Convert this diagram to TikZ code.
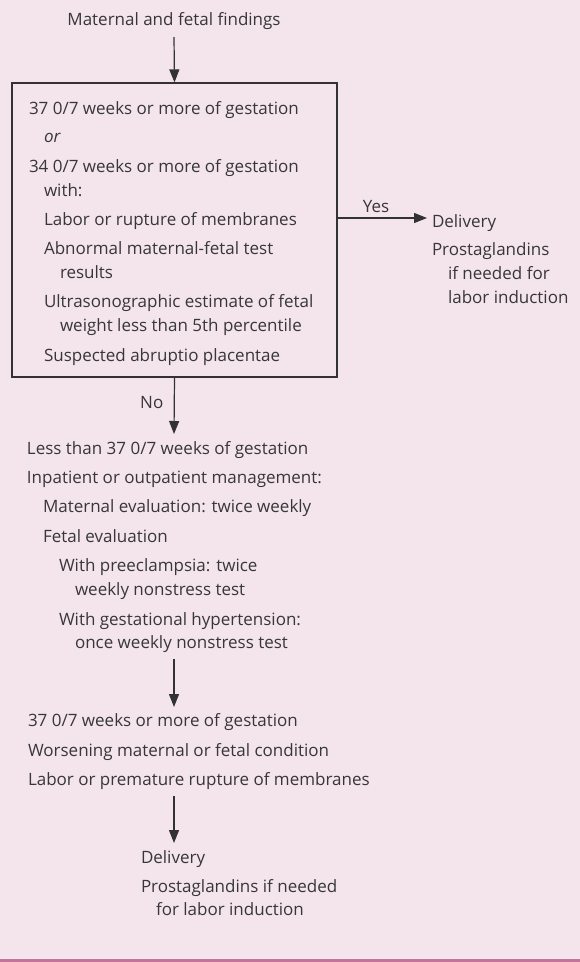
\documentclass[tikz,border=0pt]{standalone}
\usepackage{fontspec}
\setmainfont{Open Sans}
\usetikzlibrary{arrows.meta}
\definecolor{bgpink}{RGB}{244,228,236}
\definecolor{linemag}{RGB}{196,116,154}
\definecolor{txtgray}{RGB}{55,55,55}
\definecolor{strokegray}{RGB}{50,50,50}
\tikzset{
  txt/.style={inner sep=0pt, outer sep=0pt, anchor=base west, text=txtgray, font=\fontsize{17}{20}\selectfont},
  arr/.style={draw=strokegray, line width=1.2pt, -{Triangle[length=13pt,width=10pt]}},
  boxframe/.style={draw=strokegray, line width=1.2pt, inner sep=0pt, minimum width=325pt, minimum height=294pt},
}
\begin{document}
\begin{tikzpicture}[x=1pt,y=-1pt]
\fill[bgpink] (0,0) rectangle (580,962);
\useasboundingbox (0,0) rectangle (580,962);
\fill[linemag] (0,958.5) rectangle (580,962);
% title
\node[txt, anchor=base] (title) at (174,25) {Maternal and fetal findings};
% box
\node[boxframe] (box) at (174.5,230) {};
\node[txt] (b1) at (29,114) {37 0/7 weeks or more of gestation};
\node[txt] (b2) at (44,142) {\itshape or};
\node[txt] (b3) at (29,172) {34 0/7 weeks or more of gestation};
\node[txt] (b4) at (44,196) {with:};
\node[txt] (b5) at (44,225) {Labor or rupture of membranes};
\node[txt] (b6) at (44,254) {Abnormal maternal-fetal test};
\node[txt] (b7) at (60,278) {results};
\node[txt] (b8) at (44,307) {Ultrasonographic estimate of fetal};
\node[txt] (b9) at (60,331) {weight less than 5th percentile};
\node[txt] (b10) at (44,361) {Suspected abruptio placentae};
% right outcome
\node[txt] (r1) at (432,227) {Delivery};
\node[txt] (r2) at (432,255) {Prostaglandins};
\node[txt] (r3) at (448,279) {if needed for};
\node[txt] (r4) at (448,303) {labor induction};
% block 2
\node[txt] (m1) at (27,454) {Less than 37 0/7 weeks of gestation};
\node[txt] (m2) at (27,483) {Inpatient or outpatient management:};
\node[txt] (m3) at (43,512) {Maternal evaluation: twice weekly};
\node[txt] (m4) at (43,542) {Fetal evaluation};
\node[txt] (m5) at (59,571) {With preeclampsia: twice};
\node[txt] (m6) at (75,595) {weekly nonstress test};
\node[txt] (m7) at (59,625) {With gestational hypertension:};
\node[txt] (m8) at (75,648) {once weekly nonstress test};
% block 3
\node[txt] (c1) at (28,726) {37 0/7 weeks or more of gestation};
\node[txt] (c2) at (28,756) {Worsening maternal or fetal condition};
\node[txt] (c3) at (28,785) {Labor or premature rupture of membranes};
% bottom outcome
\node[txt] (d1) at (141,863) {Delivery};
\node[txt] (d2) at (141,892) {Prostaglandins if needed};
\node[txt] (d3) at (156,915) {for labor induction};
% connector ends
\coordinate (a1s) at (174,37);
\coordinate (yess) at (box.east |- 0,218);
\coordinate (yest) at (427,218);
\coordinate (not) at (174,434);
\coordinate (a3s) at (174,659);
\coordinate (a3t) at (174,707);
\coordinate (a4s) at (174,796);
\coordinate (a4t) at (174,843);
% connectors
\draw[arr] (a1s) -- (box.north);
\draw[arr] (yess) -- node[txt, anchor=base, pos=0.43, yshift=6pt] (yeslbl) {Yes} (yest);
\draw[arr] (box.south) -- node[txt, anchor=base east, pos=0.47, xshift=-11pt, yshift=-4pt] (nolbl) {No} (not);
\draw[arr] (a3s) -- (a3t);
\draw[arr] (a4s) -- (a4t);
\end{tikzpicture}
\end{document}
